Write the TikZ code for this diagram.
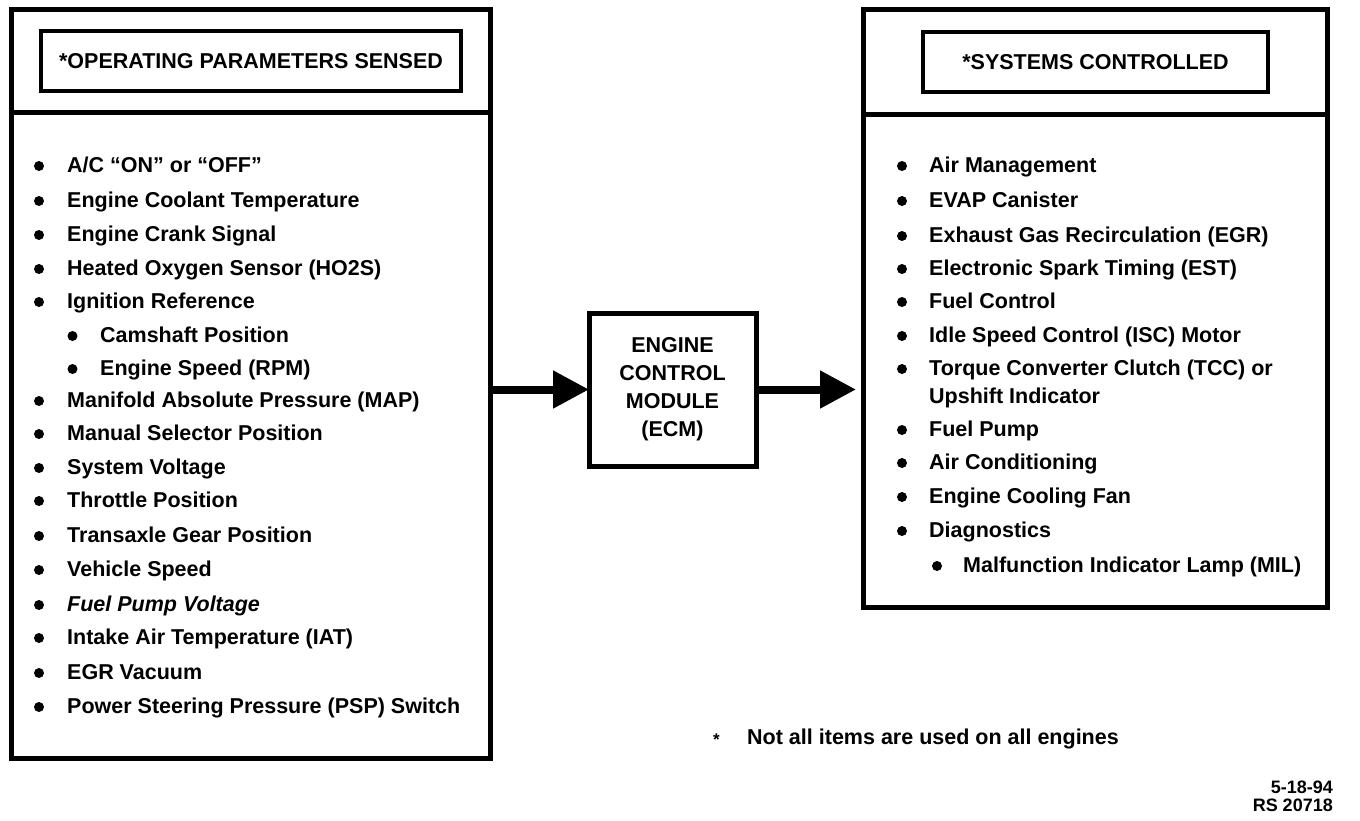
\documentclass[tikz,border=0pt]{standalone}
\usepackage{fontspec}
\setmainfont{Liberation Sans}
\usetikzlibrary{arrows.meta}
\newcommand\mkrow[5]{%
  \node[dot] (#1d) at (#2,#4+1) {};
  \node[item] (#1) at (#3,#4+7.5) {#5};}
\begin{document}
\begin{tikzpicture}[x=1pt,y=-1pt,
  every node/.style={font=\fontsize{21.5}{28}\selectfont\bfseries},
  frame/.style={draw, line width=5pt, inner sep=0pt, outer sep=0pt},
  item/.style={anchor=base west, inner sep=0pt},
  dot/.style={circle, fill, inner sep=0pt, minimum size=10pt},
  bigarrow/.style={line width=8pt, -{Triangle[length=36pt,width=36pt]}},
  small/.style={anchor=base east, inner sep=0pt, font=\fontsize{18}{18}\selectfont\bfseries},
]
\useasboundingbox[fill=white] (0,0) rectangle (1360,820);

% left panel
\node[frame, minimum width=479pt, minimum height=749pt] (leftbox) at (250.5,384) {};
\draw[line width=5pt] (leftbox.west |- 0,112) -- (leftbox.east |- 0,112);
\node[frame, line width=4.5pt, minimum width=420pt, minimum height=60pt] (ltitle) at (251,61) {*OPERATING PARAMETERS SENSED};

\mkrow{l1}{39}{67}{165}{A/C “ON” or “OFF”}
\mkrow{l2}{39}{67}{200}{Engine Coolant Temperature}
\mkrow{l3}{39}{67}{234}{Engine Crank Signal}
\mkrow{l4}{39}{67}{268}{Heated Oxygen Sensor (HO2S)}
\mkrow{l5}{39}{67}{301}{Ignition Reference}
\mkrow{l6}{72.5}{100}{335}{Camshaft Position}
\mkrow{l7}{72.5}{100}{368}{Engine Speed (RPM)}
\mkrow{l8}{39}{67}{400}{Manifold Absolute Pressure (MAP)}
\mkrow{l9}{39}{67}{433}{Manual Selector Position}
\mkrow{l10}{39}{67}{467}{System Voltage}
\mkrow{l11}{39}{67}{500}{Throttle Position}
\mkrow{l12}{39}{67}{535}{Transaxle Gear Position}
\mkrow{l13}{39}{67}{569}{Vehicle Speed}
\mkrow{l14}{39}{67}{604}{\itshape Fuel Pump Voltage}
\mkrow{l15}{39}{67}{637}{Intake Air Temperature (IAT)}
\mkrow{l16}{39}{67}{672}{EGR Vacuum}
\mkrow{l17}{39}{67}{706}{Power Steering Pressure (PSP) Switch}

% ECM
\node[frame, minimum width=167pt, minimum height=153pt, align=center] (ecm) at (672.5,389.5) {ENGINE\\CONTROL\\MODULE\\(ECM)};

% right panel
\node[frame, minimum width=464pt, minimum height=597.5pt] (rightbox) at (1095,308.25) {};
\draw[line width=5pt] (rightbox.west |- 0,114) -- (rightbox.east |- 0,114);
\node[frame, line width=4.5pt, minimum width=345pt, minimum height=60pt] (rtitle) at (1095.5,62) {*SYSTEMS CONTROLLED};

\mkrow{r1}{902}{929}{165}{Air Management}
\mkrow{r2}{902}{929}{200}{EVAP Canister}
\mkrow{r3}{902}{929}{235}{Exhaust Gas Recirculation (EGR)}
\mkrow{r4}{902}{929}{268}{Electronic Spark Timing (EST)}
\mkrow{r5}{902}{929}{301}{Fuel Control}
\mkrow{r6}{902}{929}{335}{Idle Speed Control (ISC) Motor}
\mkrow{r7}{902}{929}{368}{Torque Converter Clutch (TCC) or}
\node[item] (r7b) at (929,396+7.5) {Upshift Indicator};
\mkrow{r8}{902}{929}{429}{Fuel Pump}
\mkrow{r9}{902}{929}{462}{Air Conditioning}
\mkrow{r10}{902}{929}{496}{Engine Cooling Fan}
\mkrow{r11}{902}{929}{530}{Diagnostics}
\mkrow{r12}{937}{963}{565}{Malfunction Indicator Lamp (MIL)}

% arrows
\draw[bigarrow] (leftbox.east |- ecm.west) -- (ecm.west);
\draw[bigarrow] (ecm.east) -- ([xshift=-7pt]rightbox.west |- ecm.east);

% notes
\node[item, font=\fontsize{17}{17}\selectfont\bfseries] (star) at (713,745) {*};
\node[item] (note) at (747,744.5) {Not all items are used on all engines};
\node[small] (date) at (1333,793) {5-18-94};
\node[small] (rs) at (1333,811) {RS 20718};
\end{tikzpicture}
\end{document}
